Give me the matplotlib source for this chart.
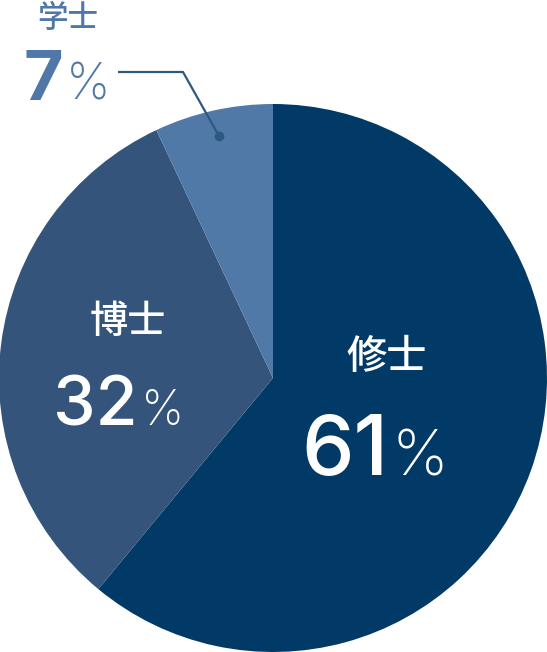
import matplotlib
matplotlib.use("Agg")
import matplotlib.pyplot as plt

categories = ["修士", "博士", "学士"]
values = [61, 32, 7]
colors = ["#023a67", "#34547b", "#5079a8"]

W, H = 547, 652
fig = plt.figure(figsize=(W / 100, H / 100), dpi=100)
ax = fig.add_axes([0, 0, 1, 1])
ax.set_xlim(0, W)
ax.set_ylim(0, H)
ax.set_aspect("equal")
ax.axis("off")

cx, cy, r = 273, H - 378, 274
ax.pie(values, colors=colors, startangle=90, counterclock=False,
       center=(cx, cy), radius=r, frame=True,
       wedgeprops=dict(linewidth=0))
ax.set_xlim(0, W)
ax.set_ylim(0, H)
ax.axis("off")

jp = ["Noto Sans CJK JP", "DejaVu Sans"]
num = ["Inter", "DejaVu Sans"]

def Y(p):
    return H - p

# (name_xy, name_size, split_x, baseline, digit_size, pct_size, color, weight)
specs = [
    ((387, 357), 29, 390, 475, 60, 46, "white", "medium"),
    ((128, 322), 27.5, 140, 425, 49, 35, "white", "medium"),
    ((68, 19), 22, 65, 100, 49, 36, "#4f78a8", "bold"),
]
for name, (nxy, ns, sx, bl, ds, ps, col, wt), v in zip(categories, specs, values):
    ax.text(nxy[0], Y(nxy[1]), name, ha="center", va="center",
            fontsize=ns, color=col, family=jp, fontweight="medium")
    ax.text(sx - 2, Y(bl), f"{v}", ha="right", va="baseline",
            fontsize=ds, color=col, family=num, fontweight=wt)
    ax.text(sx + 1, Y(bl), "%", ha="left", va="baseline",
            fontsize=ps, color=col, family=num, fontweight="light")

lc = "#2d5882"
ax.plot([118, 183, 219], [Y(72), Y(72), Y(136)], color=lc, lw=1.6,
        solid_capstyle="butt")
ax.plot([219], [Y(136)], "o", color=lc, markersize=6)

fig.savefig("out.png", dpi=100)
